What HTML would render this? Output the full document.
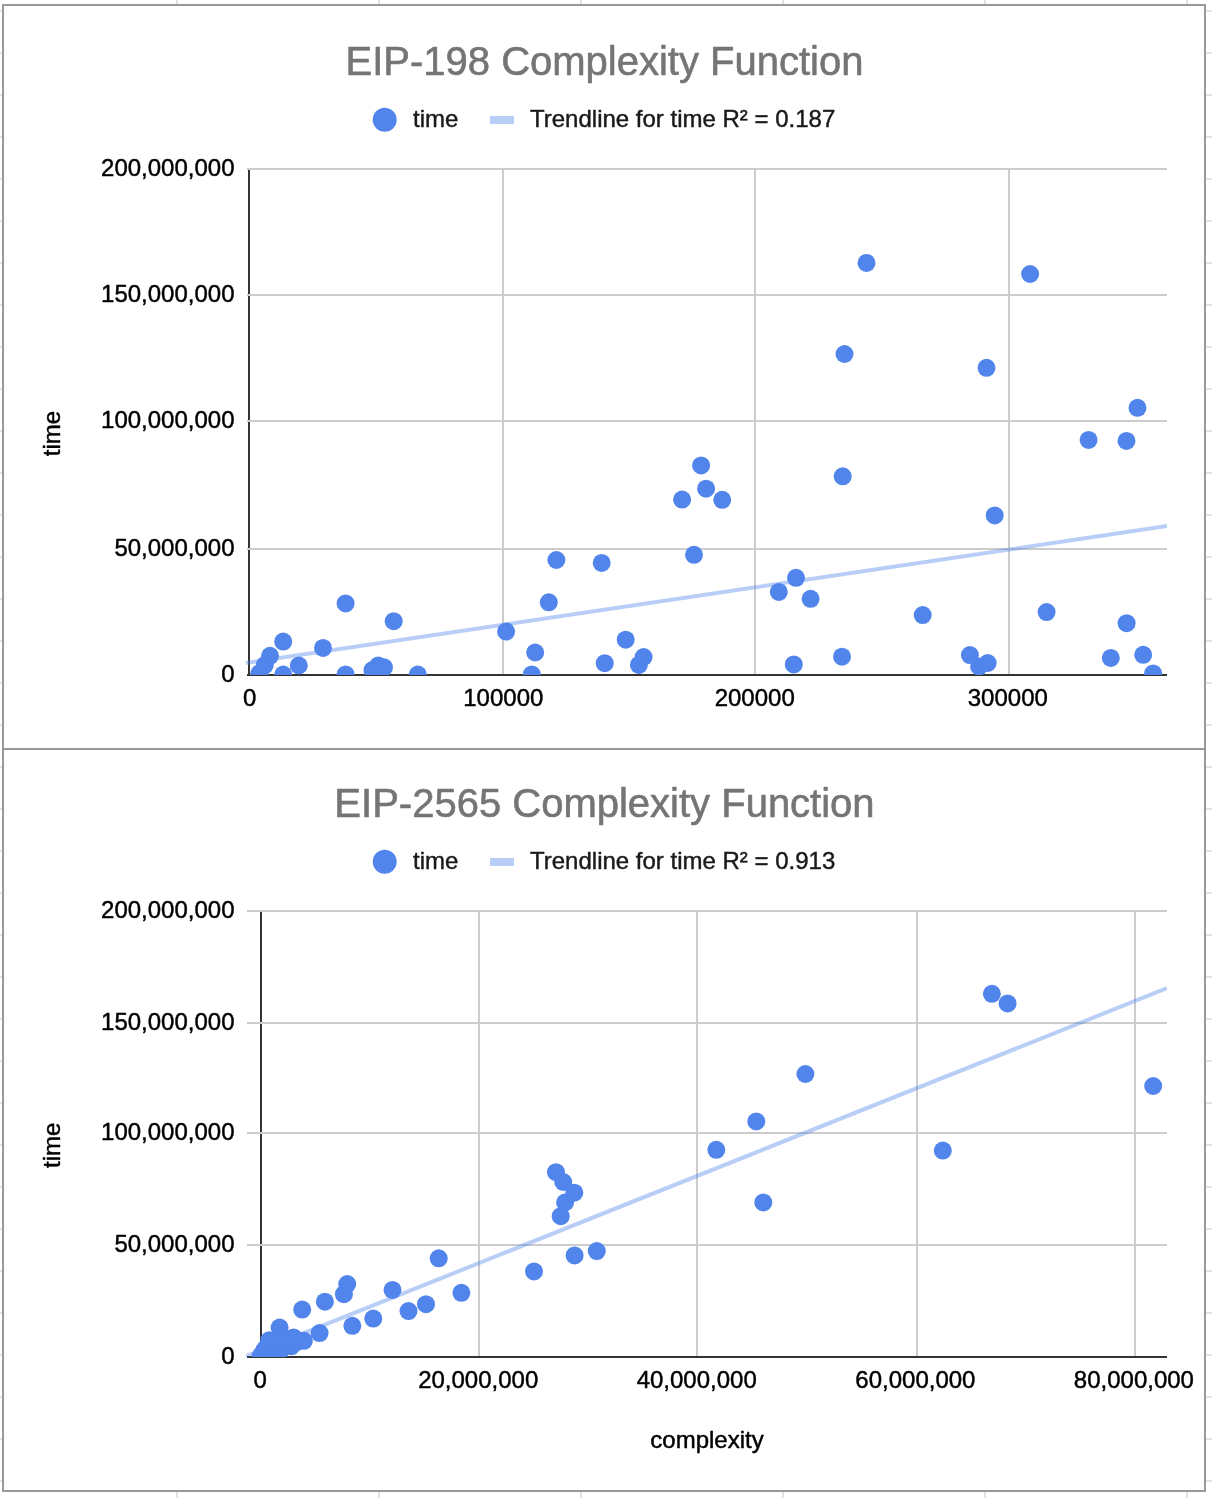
<!DOCTYPE html>
<html lang="en">
<head>
<meta charset="utf-8">
<title>EIP-198 vs EIP-2565 Complexity Function</title>
<style>
html,body{margin:0;padding:0;background:#ffffff;}
body{width:1212px;height:1498px;overflow:hidden;}
svg{display:block;font-family:"Liberation Sans",sans-serif;}
text{stroke-width:0.45px;stroke-linejoin:round;}
text.t{stroke:#757575;stroke-width:0.6px;}
text.l{stroke:#1a1a1a;}
text.a{stroke:#000000;}
</style>
</head>
<body>
<svg width="1212" height="1498" viewBox="0 0 1212 1498">
<rect x="0" y="0" width="1212" height="1498" fill="#ffffff"/>
<g>
<rect x="0" y="10" width="1212" height="2" fill="#e2e3e3"/>
<rect x="0" y="52" width="1212" height="2" fill="#e2e3e3"/>
<rect x="0" y="94" width="1212" height="2" fill="#e2e3e3"/>
<rect x="0" y="136" width="1212" height="2" fill="#e2e3e3"/>
<rect x="0" y="178" width="1212" height="2" fill="#e2e3e3"/>
<rect x="0" y="220" width="1212" height="2" fill="#e2e3e3"/>
<rect x="0" y="262" width="1212" height="2" fill="#e2e3e3"/>
<rect x="0" y="304" width="1212" height="2" fill="#e2e3e3"/>
<rect x="0" y="346" width="1212" height="2" fill="#e2e3e3"/>
<rect x="0" y="388" width="1212" height="2" fill="#e2e3e3"/>
<rect x="0" y="430" width="1212" height="2" fill="#e2e3e3"/>
<rect x="0" y="472" width="1212" height="2" fill="#e2e3e3"/>
<rect x="0" y="514" width="1212" height="2" fill="#e2e3e3"/>
<rect x="0" y="556" width="1212" height="2" fill="#e2e3e3"/>
<rect x="0" y="598" width="1212" height="2" fill="#e2e3e3"/>
<rect x="0" y="640" width="1212" height="2" fill="#e2e3e3"/>
<rect x="0" y="682" width="1212" height="2" fill="#e2e3e3"/>
<rect x="0" y="724" width="1212" height="2" fill="#e2e3e3"/>
<rect x="0" y="766" width="1212" height="2" fill="#e2e3e3"/>
<rect x="0" y="808" width="1212" height="2" fill="#e2e3e3"/>
<rect x="0" y="850" width="1212" height="2" fill="#e2e3e3"/>
<rect x="0" y="892" width="1212" height="2" fill="#e2e3e3"/>
<rect x="0" y="934" width="1212" height="2" fill="#e2e3e3"/>
<rect x="0" y="976" width="1212" height="2" fill="#e2e3e3"/>
<rect x="0" y="1018" width="1212" height="2" fill="#e2e3e3"/>
<rect x="0" y="1060" width="1212" height="2" fill="#e2e3e3"/>
<rect x="0" y="1102" width="1212" height="2" fill="#e2e3e3"/>
<rect x="0" y="1144" width="1212" height="2" fill="#e2e3e3"/>
<rect x="0" y="1186" width="1212" height="2" fill="#e2e3e3"/>
<rect x="0" y="1228" width="1212" height="2" fill="#e2e3e3"/>
<rect x="0" y="1270" width="1212" height="2" fill="#e2e3e3"/>
<rect x="0" y="1312" width="1212" height="2" fill="#e2e3e3"/>
<rect x="0" y="1354" width="1212" height="2" fill="#e2e3e3"/>
<rect x="0" y="1396" width="1212" height="2" fill="#e2e3e3"/>
<rect x="0" y="1438" width="1212" height="2" fill="#e2e3e3"/>
<rect x="0" y="1480" width="1212" height="2" fill="#e2e3e3"/>
<rect x="176" y="0" width="2" height="1498" fill="#e2e3e3"/>
<rect x="378" y="0" width="2" height="1498" fill="#e2e3e3"/>
<rect x="580" y="0" width="2" height="1498" fill="#e2e3e3"/>
<rect x="782" y="0" width="2" height="1498" fill="#e2e3e3"/>
<rect x="984" y="0" width="2" height="1498" fill="#e2e3e3"/>
<rect x="1186" y="0" width="2" height="1498" fill="#e2e3e3"/>
</g>
<!-- chart frames -->
<rect x="3" y="5" width="1202" height="1486" fill="#ffffff" stroke="#999999" stroke-width="2"/>
<rect x="2" y="748" width="1204" height="2" fill="#999999"/>
<!-- chart 1 -->
<rect x="502" y="168" width="2" height="506" fill="#cccccc"/>
<rect x="754" y="168" width="2" height="506" fill="#cccccc"/>
<rect x="1008" y="168" width="2" height="506" fill="#cccccc"/>
<rect x="248" y="168" width="2" height="508" fill="#333333"/>
<rect x="247" y="168" width="920" height="2" fill="#cccccc"/>
<rect x="247" y="294" width="920" height="2" fill="#cccccc"/>
<rect x="247" y="420" width="920" height="2" fill="#cccccc"/>
<rect x="247" y="548" width="920" height="2" fill="#cccccc"/>
<rect x="247" y="674" width="920" height="2" fill="#333333"/>
<clipPath id="clipa"><rect x="246" y="168" width="921" height="507"/></clipPath>
<g clip-path="url(#clipa)">
<line x1="246" y1="663" x2="1167" y2="526" stroke="#5185ec" stroke-opacity="0.4" stroke-width="4"/>
<g fill="#5185ec"><circle cx="345.6" cy="603.4" r="9"/>
<circle cx="393.7" cy="621.2" r="9"/>
<circle cx="283.2" cy="641.6" r="9"/>
<circle cx="323" cy="647.9" r="9"/>
<circle cx="270" cy="655.8" r="9"/>
<circle cx="264.8" cy="665.1" r="9"/>
<circle cx="259.3" cy="673.5" r="9"/>
<circle cx="298.8" cy="665.5" r="9"/>
<circle cx="283.2" cy="674.6" r="9"/>
<circle cx="345.6" cy="674.4" r="9"/>
<circle cx="372.5" cy="670.1" r="9"/>
<circle cx="378.3" cy="665.4" r="9"/>
<circle cx="384" cy="667.3" r="9"/>
<circle cx="417.8" cy="674.6" r="9"/>
<circle cx="506.1" cy="631.6" r="9"/>
<circle cx="535.2" cy="652.5" r="9"/>
<circle cx="531.8" cy="674.4" r="9"/>
<circle cx="556.4" cy="560" r="9"/>
<circle cx="601.7" cy="562.9" r="9"/>
<circle cx="694" cy="554.8" r="9"/>
<circle cx="548.8" cy="602.3" r="9"/>
<circle cx="625.7" cy="639.7" r="9"/>
<circle cx="604.7" cy="663.2" r="9"/>
<circle cx="643.6" cy="657" r="9"/>
<circle cx="638.9" cy="664.9" r="9"/>
<circle cx="778.8" cy="591.9" r="9"/>
<circle cx="796" cy="577.8" r="9"/>
<circle cx="793.8" cy="664.4" r="9"/>
<circle cx="810.6" cy="598.8" r="9"/>
<circle cx="922.7" cy="615.1" r="9"/>
<circle cx="1046.6" cy="612.1" r="9"/>
<circle cx="842" cy="656.7" r="9"/>
<circle cx="969.9" cy="655.1" r="9"/>
<circle cx="979.1" cy="666.5" r="9"/>
<circle cx="987.7" cy="663" r="9"/>
<circle cx="1126.6" cy="623.2" r="9"/>
<circle cx="1110.8" cy="657.9" r="9"/>
<circle cx="1143.2" cy="654.8" r="9"/>
<circle cx="1153.1" cy="673.4" r="9"/>
<circle cx="866.5" cy="262.9" r="9"/>
<circle cx="844.5" cy="354" r="9"/>
<circle cx="842.7" cy="476.3" r="9"/>
<circle cx="701.1" cy="465.4" r="9"/>
<circle cx="706.1" cy="488.7" r="9"/>
<circle cx="682.1" cy="499.6" r="9"/>
<circle cx="722.2" cy="499.8" r="9"/>
<circle cx="1030.1" cy="274" r="9"/>
<circle cx="986.5" cy="367.8" r="9"/>
<circle cx="1137.5" cy="407.8" r="9"/>
<circle cx="1088.6" cy="439.9" r="9"/>
<circle cx="1126.5" cy="440.9" r="9"/>
<circle cx="994.7" cy="515.4" r="9"/></g>
</g>
<text x="604.5" y="74.5" text-anchor="middle" class="t" font-size="40" fill="#757575">EIP-198 Complexity Function</text>
<circle cx="384.7" cy="119.7" r="12" fill="#5185ec"/>
<text x="413" y="126.6" class="l" font-size="24" fill="#1a1a1a">time</text>
<rect x="490" y="116" width="24" height="8" fill="#5185ec" fill-opacity="0.4"/>
<text x="530" y="126.6" class="l" font-size="24" fill="#1a1a1a">Trendline for time R² = 0.187</text>
<text x="234.5" y="176.3" text-anchor="end" class="a" font-size="24" fill="#000">200,000,000</text>
<text x="234.5" y="302.3" text-anchor="end" class="a" font-size="24" fill="#000">150,000,000</text>
<text x="234.5" y="428.3" text-anchor="end" class="a" font-size="24" fill="#000">100,000,000</text>
<text x="234.5" y="556.3" text-anchor="end" class="a" font-size="24" fill="#000">50,000,000</text>
<text x="234.5" y="682.3" text-anchor="end" class="a" font-size="24" fill="#000">0</text>
<text x="249.6" y="706" text-anchor="middle" class="a" font-size="24" fill="#000">0</text>
<text x="503.3" y="706" text-anchor="middle" class="a" font-size="24" fill="#000">100000</text>
<text x="754.7" y="706" text-anchor="middle" class="a" font-size="24" fill="#000">200000</text>
<text x="1007.8" y="706" text-anchor="middle" class="a" font-size="24" fill="#000">300000</text>
<text transform="translate(60 433.5) rotate(-90)" text-anchor="middle" class="a" font-size="24" fill="#000">time</text>
<!-- chart 2 -->
<rect x="478" y="910" width="2" height="446" fill="#cccccc"/>
<rect x="696" y="910" width="2" height="446" fill="#cccccc"/>
<rect x="916" y="910" width="2" height="446" fill="#cccccc"/>
<rect x="1134" y="910" width="2" height="446" fill="#cccccc"/>
<rect x="260" y="910" width="2" height="448" fill="#333333"/>
<rect x="247" y="910" width="920" height="2" fill="#cccccc"/>
<rect x="247" y="1022" width="920" height="2" fill="#cccccc"/>
<rect x="247" y="1132" width="920" height="2" fill="#cccccc"/>
<rect x="247" y="1244" width="920" height="2" fill="#cccccc"/>
<rect x="247" y="1356" width="920" height="2" fill="#333333"/>
<clipPath id="clipb"><rect x="246" y="910" width="921" height="447"/></clipPath>
<g clip-path="url(#clipb)">
<line x1="246" y1="1356.2" x2="1167" y2="988.2" stroke="#5185ec" stroke-opacity="0.4" stroke-width="4"/>
<g fill="#5185ec"><circle cx="991.9" cy="993.8" r="9"/>
<circle cx="1007.6" cy="1003.4" r="9"/>
<circle cx="805.4" cy="1074" r="9"/>
<circle cx="1153.2" cy="1086" r="9"/>
<circle cx="756.3" cy="1121.4" r="9"/>
<circle cx="716.3" cy="1149.8" r="9"/>
<circle cx="942.8" cy="1150.6" r="9"/>
<circle cx="556" cy="1172.2" r="9"/>
<circle cx="563.2" cy="1182" r="9"/>
<circle cx="574.3" cy="1192.7" r="9"/>
<circle cx="565.1" cy="1202.5" r="9"/>
<circle cx="763.3" cy="1202.4" r="9"/>
<circle cx="560.7" cy="1216.2" r="9"/>
<circle cx="438.7" cy="1258.3" r="9"/>
<circle cx="596.8" cy="1251.1" r="9"/>
<circle cx="574.6" cy="1255.4" r="9"/>
<circle cx="534" cy="1271.4" r="9"/>
<circle cx="347.2" cy="1284" r="9"/>
<circle cx="392.5" cy="1289.9" r="9"/>
<circle cx="461.4" cy="1292.8" r="9"/>
<circle cx="343.9" cy="1294.2" r="9"/>
<circle cx="324.9" cy="1301.7" r="9"/>
<circle cx="426" cy="1304.2" r="9"/>
<circle cx="408.5" cy="1311.1" r="9"/>
<circle cx="302.2" cy="1309.6" r="9"/>
<circle cx="373.3" cy="1318.6" r="9"/>
<circle cx="352.3" cy="1325.8" r="9"/>
<circle cx="319.6" cy="1333.1" r="9"/>
<circle cx="279.6" cy="1327.5" r="9"/>
<circle cx="293.6" cy="1337.4" r="9"/>
<circle cx="269.3" cy="1340.2" r="9"/>
<circle cx="303.9" cy="1340.8" r="9"/>
<circle cx="291.2" cy="1346.3" r="9"/>
<circle cx="265" cy="1349" r="9"/>
<circle cx="260.6" cy="1356" r="9"/>
<circle cx="263" cy="1352.5" r="9"/>
<circle cx="272" cy="1347.5" r="9"/>
<circle cx="275" cy="1352" r="9"/>
<circle cx="277" cy="1356.5" r="9"/>
<circle cx="280" cy="1346" r="9"/>
<circle cx="281" cy="1350" r="9"/>
<circle cx="286" cy="1341" r="9"/>
<circle cx="297" cy="1342" r="9"/>
<circle cx="270" cy="1356.6" r="9"/>
<circle cx="266" cy="1356.5" r="9"/>
<circle cx="283" cy="1339.5" r="9"/>
<circle cx="276" cy="1341" r="9"/>
<circle cx="289" cy="1339.2" r="9"/>
<circle cx="268" cy="1348.1" r="9"/>
<circle cx="274" cy="1341.5" r="9"/></g>
</g>
<text x="604.5" y="816.5" text-anchor="middle" class="t" font-size="40" fill="#757575">EIP-2565 Complexity Function</text>
<circle cx="384.7" cy="861.7" r="12" fill="#5185ec"/>
<text x="413" y="868.6" class="l" font-size="24" fill="#1a1a1a">time</text>
<rect x="490" y="858" width="24" height="8" fill="#5185ec" fill-opacity="0.4"/>
<text x="530" y="868.6" class="l" font-size="24" fill="#1a1a1a">Trendline for time R² = 0.913</text>
<text x="234.5" y="918.3" text-anchor="end" class="a" font-size="24" fill="#000">200,000,000</text>
<text x="234.5" y="1030.3" text-anchor="end" class="a" font-size="24" fill="#000">150,000,000</text>
<text x="234.5" y="1140.3" text-anchor="end" class="a" font-size="24" fill="#000">100,000,000</text>
<text x="234.5" y="1252.3" text-anchor="end" class="a" font-size="24" fill="#000">50,000,000</text>
<text x="234.5" y="1364.3" text-anchor="end" class="a" font-size="24" fill="#000">0</text>
<text x="260.1" y="1388" text-anchor="middle" class="a" font-size="24" fill="#000">0</text>
<text x="478.2" y="1388" text-anchor="middle" class="a" font-size="24" fill="#000">20,000,000</text>
<text x="696.7" y="1388" text-anchor="middle" class="a" font-size="24" fill="#000">40,000,000</text>
<text x="915.4" y="1388" text-anchor="middle" class="a" font-size="24" fill="#000">60,000,000</text>
<text x="1133.9" y="1388" text-anchor="middle" class="a" font-size="24" fill="#000">80,000,000</text>
<text transform="translate(60 1145.3) rotate(-90)" text-anchor="middle" class="a" font-size="24" fill="#000">time</text>
<text x="707" y="1447.8" text-anchor="middle" class="a" font-size="24" fill="#000">complexity</text>
</svg>
</body>
</html>
